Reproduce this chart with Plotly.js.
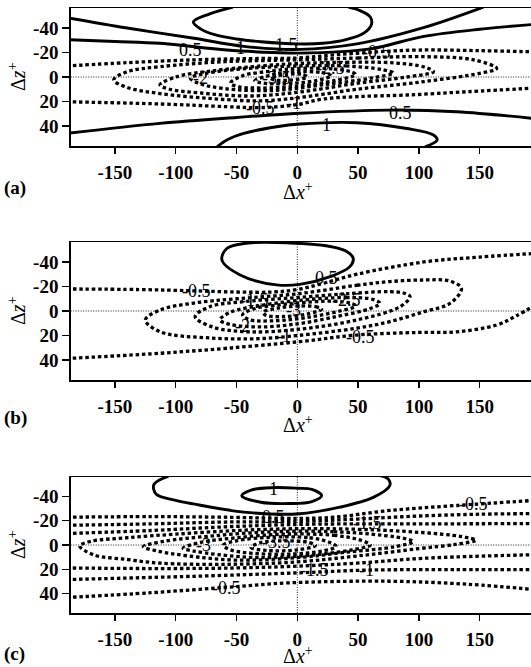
<!DOCTYPE html>
<html>
<head>
<meta charset="utf-8">
<script src="https://cdn.plot.ly/plotly-3.0.1.min.js"></script>
<style>html,body{margin:0;padding:0;background:#fff;}#chart{width:531px;height:667px;}</style>
</head>
<body>
<div id="chart"></div>
<script>
// ---------- tick labels ----------
const xTickVals = [-150, -100, -50, 0, 50, 100, 150];
const xTickText = ['-150', '-100', '-50', '0', '50', '100', '150'];
const zTickVals = [-40, -20, 0, 20, 40];
const zTickText = ['-40', '-20', '0', '20', '40'];
const panelNames = ['(a)', '(b)', '(c)'];

// ---------- panel (a): contour paths (x = Δx+, z = Δz+) ----------
const aP05uX = [-190, -150, -113, -58, -20, 2, 60, 103, 150, 196];
const aP05uZ = [-30.5, -29, -27.5, -22, -20, -19.5, -23, -33, -39, -43];
const aP1uX = [-190, -140, -85, -44, 2, 49, 103, 153];
const aP1uZ = [-48.5, -40, -31.6, -25, -22.5, -27, -40, -57];
const aP15X = [-53, -72, -85.5, -80, -68, -50, -30, 0, 21, 40, 55, 61, 60, 52, 42];
const aP15Z = [-57, -51.5, -45, -39.5, -34.5, -31, -28.8, -27, -27.5, -30.5, -36, -43, -49, -54, -57];
const aP05dX = [-190, -113, -50, 2, 76, 131, 196];
const aP05dZ = [46, 37.8, 33, 29.6, 27, 28.3, 34];
const aP1dX = [-66, -58, -44, -17, 2, 49, 90, 112, 115, 105];
const aP1dZ = [57, 51.4, 46, 40.6, 38.4, 37.3, 42, 47.3, 51.4, 57];
const aN05uX = [-190, -140, -85, -40, 0, 30, 65, 100, 150, 196];
const aN05uZ = [-9, -11.7, -14, -15, -15.5, -18, -20.5, -22, -21.5, -20.5];
const aN05dX = [-190, -113, -58, -30, 0, 21, 50, 90, 140, 196];
const aN05dZ = [20.2, 22, 24.2, 25, 22.5, 18, 16, 14.7, 12, 9];
const aN1X = [0, 50, 104, 145, 164, 150, 104, 49, 0, -31, -72, -113, -140, -151, -140, -113, -60, 0];
const aN1Z = [-14, -15.5, -16.6, -14, -7, -3, 3.8, 10, 17, 19.5, 17.5, 13.5, 8.5, 2.4, -4.3, -8.4, -12.5, -14];
const aN15X = [0, 40, 80, 105, 112, 90, 50, 0, -40, -80, -105, -113, -100, -70, -30, 0];
const aN15Z = [-11, -12, -11.5, -8, -4.3, 0, 5, 12.5, 15.5, 13, 10, 6.5, 0, -5, -9, -11];
const aN2X = [0, 40, 70, 79, 60, 20, -20, -60, -80, -88, -75, -40, 0];
const aN2Z = [-9, -9, -6, -3.3, 1, 6.5, 11, 9.5, 5.5, 1, -3, -7, -9];
const aN25X = [0, 30, 45, 48, 30, 0, -30, -48, -55, -45, -20, 0];
const aN25Z = [-7, -6.5, -4, -2, 3, 7.5, 9, 8, 5, -1, -5, -7];
const aN3X = [0, 20, 28, 15, -10, -28, -35, -20, 0];
const aN3Z = [-4.5, -3.5, -1, 3, 5.5, 5, 3, -2, -4.5];
const aN35X = [-10, 5, 8, -5, -18, -22, -10];
const aN35Z = [-2, -2, 0, 2.5, 2.5, 1, -2];
const aLabX = [-88, -47, -9, 65, -30, -80, -17, 27, -3, 84.5, 24];
const aLabZ = [-22, -23.7, -26, -20.5, 25.4, 1, 1, -7, 21, 29.7, 39];
const aLabT = ['0.5', '1', '1.5', '-0.5', '-0.5', '-2', '-3.5', '-2.5', '-1', '0.5', '1'];

// ---------- panel (b) ----------
const bP05X = [-17, -47, -62, -58, -42, -6, 25, 40, 46, 43, 27, 2, -17];
const bP05Z = [-21.3, -29.4, -41.6, -51, -55.3, -55.5, -53, -49, -43, -36, -28, -21.7, -21.3];
const bN05uX = [-190, -130, -86, -50, -20, 0, 21, 49, 104, 150, 196];
const bN05uZ = [-18, -17.5, -16.5, -15.5, -15.5, -17.5, -22.5, -30, -40, -44, -47];
const bN05dX = [-190, -113, -58, 2, 49, 100, 131, 164, 180, 196];
const bN05dZ = [38.8, 34.5, 30.4, 25, 19.6, 17.5, 17, 11.4, 4, -5];
const bN1X = [0, 49, 76, 104, 125, 135, 126, 104, 76, 49, 0, -30, -72, -113, -125, -113, -85, -50, 0];
const bN1Z = [-14, -21, -24, -25.3, -24.5, -18.5, -6.5, 0.6, 8.7, 14, 20, 22.5, 22, 16.9, 7.3, -0.8, -6.5, -10, -14];
const bN15X = [0, 40, 76, 88, 92.7, 84.5, 49, 0, -40, -70, -84, -72, -40, 0];
const bN15Z = [-11, -14, -15.8, -14.5, -11.7, -3.5, 7.3, 15, 17, 13, 4.6, -3.5, -8, -11];
const bN2X = [0, 40, 62, 68, 60, 30, 0, -30, -55, -63.6, -55, -30, 0];
const bN2Z = [-8.5, -11, -9.5, -6.3, -2, 5, 10.5, 13, 11, 7.3, 1, -4.5, -8.5];
const bN25X = [0, 30, 45, 48, 35, 10, -20, -40, -45, -35, -15, 0];
const bN25Z = [-6.5, -8, -6, -4, 0, 5, 8, 7, 3, -2, -5, -6.5];
const bN3X = [0, 15, 20, 8, -12, -26, -28, -15, 0];
const bN3Z = [-4, -3.5, -1.5, 2.5, 4.5, 3.5, 1, -2.5, -4];
const bLabX = [-83, 24, 40.6, -45, -3, -11, 52, -35];
const bLabZ = [-16, -27, -9, 12, -1, 20, 21, -9];
const bLabT = ['-0.5', '0.5', '-2.5', '-2', '-3', '-1', '-0.5', '-1.5'];

// ---------- panel (c) ----------
const cP05X = [-106, -118, -116, -100, -85.5, -44, 2, 35, 62.5, 76, 75, 68];
const cP05Z = [-57, -50, -42, -37, -34, -27.2, -25.9, -31.3, -39.4, -49, -54.4, -57.5];
const cP1X = [-30, -45.7, -38, -20, 0, 12, 20, 12, -6, -30];
const cP1Z = [-35.4, -40.8, -45.5, -47.5, -47, -46, -41, -36, -34.3, -35.4];
const cN05uX = [-190, -120, -60, 0, 30, 76, 131, 196];
const cN05uZ = [-23, -23.5, -23, -22, -23, -28.6, -32.7, -37];
const cN1uX = [-190, -120, -60, 0, 50, 100, 150, 196];
const cN1uZ = [-16.3, -17.5, -19, -19.5, -21.5, -24, -25.5, -26];
const cN15uX = [-190, -120, -60, 0, 50, 100, 150, 196];
const cN15uZ = [-9.5, -12, -15, -17, -17.5, -17.5, -17.6, -17.7];
const cN05dX = [-190, -120, -58, -6, 76, 140, 196];
const cN05dZ = [43.5, 39.5, 35, 31.3, 30, 32.5, 37];
const cN1dX = [-190, -85, 2, 57, 130, 196];
const cN1dZ = [28.6, 25.9, 23, 20.8, 20.4, 20.4];
const cN15dX = [-190, -113, -50, 0, 49, 104, 196];
const cN15dZ = [19, 19.5, 19, 17.5, 15, 11, 8];
const cN2X = [0, 50, 100, 135, 147, 130, 100, 50, 0, -60, -113, -140, -168, -179, -170, -140, -100, -50, 0];
const cN2Z = [-13.5, -13, -10.5, -7, -4, -0.5, 3, 9, 14, 16, 15, 12, 8, 0.8, -3, -6, -9, -12, -13.5];
const cN25X = [-20, 30, 70, 90, 95.4, 80, 40, 0, -50, -90, -115, -126.7, -110, -70, -20];
const cN25Z = [-11, -11, -8, -5, -2.7, 1.5, 6, 10.5, 12.5, 9, 5, 1.4, -3, -7.5, -11];
const cN3X = [-10, 30, 52, 60, 45, 10, -30, -65, -85, -94, -80, -50, -10];
const cN3Z = [-9, -8, -4, 0, 4, 8.5, 10.5, 8, 5, 2.7, -2, -6, -9];
const cN35X = [-20, 10, 27, 32, 20, -5, -35, -55, -61, -50, -20];
const cN35Z = [-6.5, -6, -2, 1.4, 5, 7.5, 7, 4, 0, -3.5, -6.5];
const cN4X = [-10, 10, 15, 0, -25, -38, -30, -10];
const cN4Z = [-3.5, -2, 0.5, 4, 4.5, 2, -2, -3.5];
const cLabX = [-20, -20, 144.6, 58, -77.5, -17, 14, 57, -58];
const cLabZ = [-46.5, -23, -34, -18, 0, -2.7, 20.4, 21, 35.4];
const cLabT = ['1', '0.5', '-0.5', '-1.5', '-3', '-3.5', '-1.5', '-1', '-0.5'];

// ---------- build ----------
const panels = [
  { ax: ['x', 'y'], labX: aLabX, labZ: aLabZ, labT: aLabT, paths: [
    [aP05uX, aP05uZ, 0.5], [aP1uX, aP1uZ, 1], [aP15X, aP15Z, 1.5], [aP05dX, aP05dZ, 0.5], [aP1dX, aP1dZ, 1],
    [aN05uX, aN05uZ, -0.5], [aN05dX, aN05dZ, -0.5], [aN1X, aN1Z, -1], [aN15X, aN15Z, -1.5], [aN2X, aN2Z, -2],
    [aN25X, aN25Z, -2.5], [aN3X, aN3Z, -3], [aN35X, aN35Z, -3.5]] },
  { ax: ['x2', 'y2'], labX: bLabX, labZ: bLabZ, labT: bLabT, paths: [
    [bP05X, bP05Z, 0.5], [bN05uX, bN05uZ, -0.5], [bN05dX, bN05dZ, -0.5], [bN1X, bN1Z, -1], [bN15X, bN15Z, -1.5],
    [bN2X, bN2Z, -2], [bN25X, bN25Z, -2.5], [bN3X, bN3Z, -3]] },
  { ax: ['x3', 'y3'], labX: cLabX, labZ: cLabZ, labT: cLabT, paths: [
    [cP05X, cP05Z, 0.5], [cP1X, cP1Z, 1], [cN05uX, cN05uZ, -0.5], [cN1uX, cN1uZ, -1], [cN15uX, cN15uZ, -1.5],
    [cN05dX, cN05dZ, -0.5], [cN1dX, cN1dZ, -1], [cN15dX, cN15dZ, -1.5], [cN2X, cN2Z, -2], [cN25X, cN25Z, -2.5],
    [cN3X, cN3Z, -3], [cN35X, cN35Z, -3.5], [cN4X, cN4Z, -4]] }
];

const W = 531, H = 667;
const px = v => v / W, py = v => 1 - v / H;
const yDomains = [[py(146), py(8)], [py(380), py(242)], [py(613), py(477)]];
const xDomain = [70.7 / W, 1];
const serif = 'Liberation Serif, Times New Roman, serif';

const traces = [];
const annotations = [];
const shapes = [];
const layout = {
  width: W, height: H, margin: { l: 0, r: 0, t: 0, b: 0 },
  paper_bgcolor: '#fff', plot_bgcolor: '#fff', showlegend: false,
  font: { family: serif, color: '#000' }
};

panels.forEach((p, i) => {
  const xa = p.ax[0], ya = p.ax[1];
  const xKey = i === 0 ? 'xaxis' : 'xaxis' + (i + 1);
  const yKey = i === 0 ? 'yaxis' : 'yaxis' + (i + 1);
  layout[xKey] = {
    domain: xDomain, anchor: ya, range: [-186.4, 192.2],
    tickmode: 'array', tickvals: xTickVals, ticktext: xTickText,
    ticks: 'outside', ticklen: 6, tickwidth: 1.3, tickcolor: '#000',
    showline: true, linewidth: 1.5, linecolor: '#000', mirror: true,
    showgrid: false, zeroline: false, ticklabelstandoff: 3,
    tickfont: { family: serif, size: 19, color: '#000', weight: 'bold' }
  };
  layout[yKey] = {
    domain: yDomains[i], anchor: xa, range: [56.3, -56.3],
    tickmode: 'array', tickvals: zTickVals, ticktext: zTickText,
    ticks: 'outside', ticklen: 7, tickwidth: 1.3, tickcolor: '#000',
    showline: true, linewidth: 1.5, linecolor: '#000', mirror: false,
    showgrid: false, zeroline: false,
    tickfont: { family: serif, size: 19, color: '#000', weight: 'bold' }
  };
  // dotted reference lines through the origin, drawn first so contours sit on top
  shapes.push({ type: 'line', layer: 'below', xref: xa, yref: ya + ' domain', x0: 0, x1: 0, y0: 0, y1: 1,
    line: { color: '#222', width: 1, dash: '1px,1.5px' } });
  shapes.push({ type: 'line', layer: 'below', xref: xa + ' domain', yref: ya, x0: 0, x1: 1, y0: 0, y1: 0,
    line: { color: '#222', width: 1, dash: '1px,1.5px' } });
  p.paths.forEach(([xs, zs, lev]) => {
    traces.push({
      type: 'scatter', mode: 'lines', x: xs, y: zs, xaxis: xa, yaxis: ya,
      hoverinfo: 'skip',
      line: { color: '#000', width: lev > 0 ? 2.9 : 3.3, dash: lev > 0 ? 'solid' : '3.5px,2.8px', shape: 'spline', smoothing: 1 }
    });
  });
  p.labT.forEach((t, k) => {
    annotations.push({ xref: xa, yref: ya, x: p.labX[k], y: p.labZ[k], text: t, showarrow: false,
      font: { family: serif, size: 18, color: '#000' } });
  });
});

// axis titles and panel letters
const xTitleY = [191, 424, 655];
const zTitleY = [77, 311, 545];
const letterY = [188, 418, 654];
for (let i = 0; i < 3; i++) {
  annotations.push({ xref: 'paper', yref: 'paper', x: px(298), y: py(xTitleY[i]), xanchor: 'center', yanchor: 'middle',
    text: 'Δ<i>x</i><sup>+</sup>', showarrow: false, font: { family: serif, size: 20, color: '#000' } });
  annotations.push({ xref: 'paper', yref: 'paper', x: px(17), y: py(zTitleY[i]), xanchor: 'center', yanchor: 'middle',
    text: 'Δ<i>z</i><sup>+</sup>', textangle: -90, showarrow: false, font: { family: serif, size: 20, color: '#000' } });
  annotations.push({ xref: 'paper', yref: 'paper', x: px(2), y: py(letterY[i]), xanchor: 'left', yanchor: 'middle',
    text: '<b>' + panelNames[i] + '</b>', showarrow: false, font: { family: serif, size: 19, color: '#000' } });
}
layout.annotations = annotations;
layout.shapes = shapes;

Plotly.newPlot('chart', traces, layout, { staticPlot: true, displayModeBar: false });
</script>
</body>
</html>
